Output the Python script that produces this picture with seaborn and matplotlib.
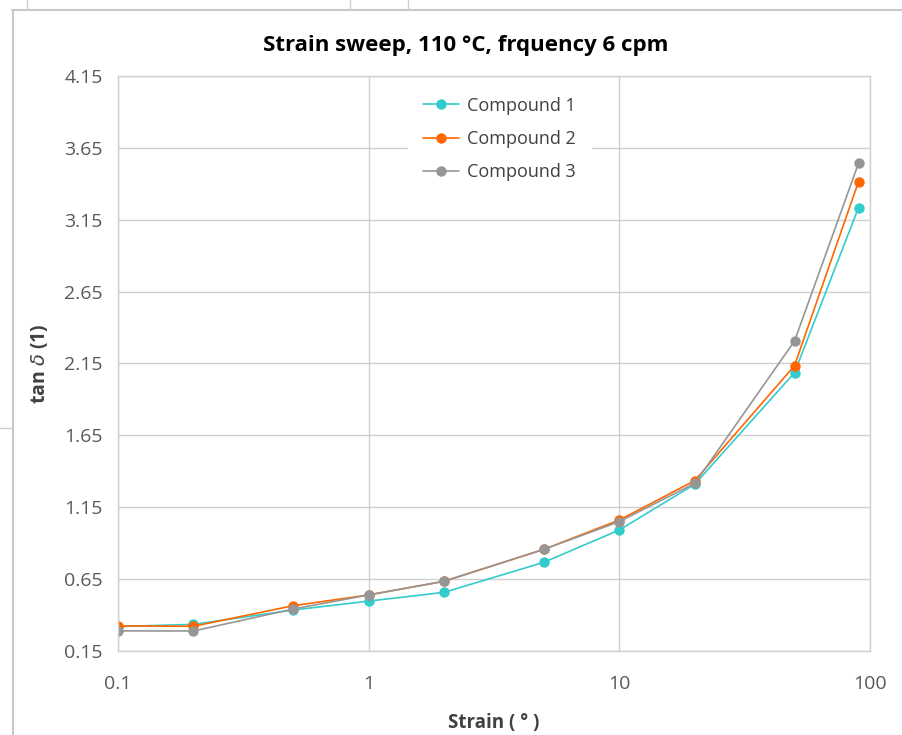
import matplotlib
matplotlib.use("Agg")
import matplotlib.pyplot as plt
import matplotlib.ticker as mticker
from matplotlib.lines import Line2D
import pandas as pd
import seaborn as sns

# Strain sweep data
strain = [0.1, 0.2, 0.5, 1, 2, 5, 10, 20, 50, 90]
compound_1 = [0.32, 0.335, 0.435, 0.497, 0.558, 0.767, 0.992, 1.31, 2.086, 3.234]
compound_2 = [0.324, 0.322, 0.465, 0.54, 0.635, 0.857, 1.061, 1.335, 2.135, 3.415]
compound_3 = [0.29, 0.289, 0.442, 0.54, 0.635, 0.857, 1.05, 1.316, 2.306, 3.543]
names = ["Compound 1", "Compound 2", "Compound 3"]
colors = {"Compound 1": "#33CCCC", "Compound 2": "#FF6600", "Compound 3": "#969696"}

y_ticks = [0.15, 0.65, 1.15, 1.65, 2.15, 2.65, 3.15, 3.65, 4.15]
x_ticks = [0.1, 1, 10, 100]
x_labels = ["0.1", "1", "10", "100"]

df = pd.DataFrame(
    {
        "strain": strain * 3,
        "tan_delta": compound_1 + compound_2 + compound_3,
        "compound": [n for n in names for _ in strain],
    }
)

sns.set_style("white")
plt.rcParams["font.family"] = ["Open Sans", "DejaVu Sans"]

fig = plt.figure(figsize=(9.02, 7.35), dpi=100)
ax = fig.add_axes([0.1308, 0.1143, 0.8337, 0.7823])

sns.lineplot(
    data=df,
    x="strain",
    y="tan_delta",
    hue="compound",
    hue_order=names,
    palette=colors,
    marker="o",
    markersize=7.5,
    markeredgewidth=0,
    linewidth=1.2,
    ax=ax,
)

ax.set_xscale("log")
ax.set_xlim(0.1, 100)
ax.set_ylim(0.15, 4.15)
ax.set_xticks(x_ticks)
ax.set_xticklabels(x_labels)
ax.xaxis.set_minor_locator(mticker.NullLocator())
ax.set_yticks(y_ticks)
ax.set_yticklabels([f"{v:.2f}" for v in y_ticks])
ax.tick_params(axis="both", length=0, labelsize=14, labelcolor="#595959")
ax.tick_params(axis="x", pad=17)
ax.tick_params(axis="y", pad=11)

ax.grid(True, color="#D0D0D0", linewidth=1)
ax.set_axisbelow(True)
for s in ax.spines.values():
    s.set_color("#D0D0D0")
    s.set_linewidth(1)

ax.set_xlabel("Strain ( ° )", fontsize=13.5, fontweight="bold", color="#404040", labelpad=15)
ax.set_ylabel(r"tan $\delta$ (1)", fontsize=14, fontweight="bold", color="#404040", labelpad=10)
ax.set_title("Strain sweep, 110 °C, frquency 6 cpm", fontsize=16, fontweight="bold",
             color="#000000", pad=18, x=0.463)

leg = ax.legend(loc="upper center", bbox_to_anchor=(0.507, 1.0), frameon=True,
                fontsize=13, handlelength=2.0, handletextpad=0.4, labelspacing=0.85,
                borderpad=0.85, borderaxespad=0.3, fancybox=False)
leg.get_frame().set_facecolor("white")
leg.get_frame().set_edgecolor("white")
leg.get_frame().set_alpha(1)
for t in leg.get_texts():
    t.set_color("#404040")

# spreadsheet cell borders around the chart object
line_c = "#C8C8C8"
fig.add_artist(Line2D([12 / 902, 1], [1 - 10 / 735, 1 - 10 / 735], color=line_c, lw=1.5))
fig.add_artist(Line2D([13 / 902, 13 / 902], [0, 1 - 10 / 735], color=line_c, lw=1.5))
for xp in [27, 350, 408]:
    fig.add_artist(Line2D([xp / 902, xp / 902], [1 - 10 / 735, 1], color="#D0D0D0", lw=1))
fig.add_artist(Line2D([0, 13 / 902], [1 - 428 / 735, 1 - 428 / 735], color="#D0D0D0", lw=1))

fig.savefig("out.png", dpi=100)
